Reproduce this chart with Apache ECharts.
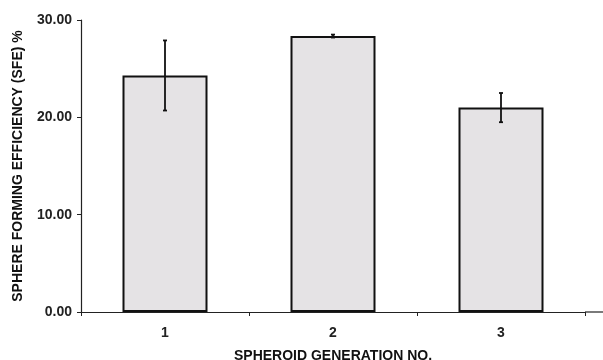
<!DOCTYPE html>
<html>
<head>
<meta charset="utf-8">
<script src="https://cdn.jsdelivr.net/npm/echarts@6/dist/echarts.min.js"></script>
<style>
  html, body { margin: 0; padding: 0; background: #fff; }
  #chart { width: 603px; height: 360px; }
</style>
</head>
<body>
<div id="chart"></div>
<script>
const generations = ['1', '2', '3'];
const sfeMean = [24.3, 28.35, 21.0];
const sfeErr = [3.6, 0.15, 1.5];
const yTicks = [0, 10, 20, 30];

const chart = echarts.init(document.getElementById('chart'));

const errData = generations.map((g, i) => [i, sfeMean[i] - sfeErr[i], sfeMean[i] + sfeErr[i]]);

const font = 'Liberation Sans, Arial, sans-serif';

chart.setOption({
  animation: false,
  grid: { left: 81, right: 18, top: 20, bottom: 48, outerBoundsMode: 'none', containLabel: false },
  graphic: [
    // axis line in the original runs on past the last category
    { type: 'line', shape: { x1: 585, y1: 312, x2: 603, y2: 312 }, style: { stroke: '#222', lineWidth: 1.2 } }
  ],
  xAxis: {
    type: 'category',
    data: generations,
    name: 'SPHEROID GENERATION NO.',
    nameLocation: 'middle',
    nameGap: 37,
    nameTextStyle: { fontFamily: font, fontWeight: 'bold', fontSize: 14, color: '#111' },
    axisLine: { lineStyle: { color: '#222', width: 1.2 } },
    axisTick: { show: true, length: 4, lineStyle: { color: '#222' } },
    axisLabel: { fontFamily: font, fontWeight: 'bold', fontSize: 14, color: '#222', margin: 14 }
  },
  yAxis: {
    type: 'value',
    min: yTicks[0],
    max: yTicks[yTicks.length - 1],
    interval: 10,
    name: 'SPHERE FORMING EFFICIENCY (SFE) %',
    nameLocation: 'middle',
    nameGap: 56,
    nameTextStyle: { fontFamily: font, fontWeight: 'bold', fontSize: 14, color: '#111' },
    axisLine: { show: true, lineStyle: { color: '#222', width: 1.2 } },
    axisTick: { show: true, length: 4, lineStyle: { color: '#222' } },
    splitLine: { show: false },
    axisLabel: {
      fontFamily: font, fontWeight: 'bold', fontSize: 14, color: '#222', margin: 9,
      formatter: v => v.toFixed(2)
    }
  },
  series: [
    {
      type: 'bar',
      data: sfeMean,
      barWidth: 85,
      itemStyle: { color: '#e5e3e5', borderColor: '#111', borderWidth: 2 }
    },
    {
      type: 'custom',
      data: errData,
      z: 10,
      renderItem: (params, api) => {
        const x = api.value(0);
        const lo = api.coord([x, api.value(1)]);
        const hi = api.coord([x, api.value(2)]);
        const cap = 2;
        const style = { stroke: '#111', lineWidth: 1.8 };
        return {
          type: 'group',
          children: [
            { type: 'line', shape: { x1: lo[0], y1: lo[1], x2: hi[0], y2: hi[1] }, style },
            { type: 'line', shape: { x1: lo[0] - cap, y1: lo[1], x2: lo[0] + cap, y2: lo[1] }, style },
            { type: 'line', shape: { x1: hi[0] - cap, y1: hi[1], x2: hi[0] + cap, y2: hi[1] }, style }
          ]
        };
      }
    }
  ]
});
</script>
</body>
</html>
